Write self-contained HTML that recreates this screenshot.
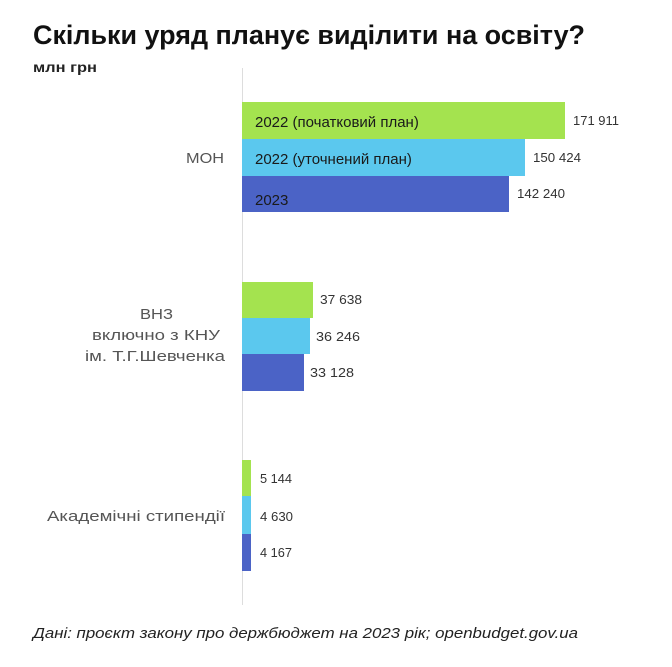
<!DOCTYPE html>
<html><head><meta charset="utf-8"><style>
html,body{margin:0;padding:0;background:#fff;}
svg{display:block;}
text{font-family:"Liberation Sans","DejaVu Sans",sans-serif;}
</style></head><body>
<svg width="672" height="667" viewBox="0 0 672 667" xmlns="http://www.w3.org/2000/svg">
<rect width="672" height="667" fill="#fff"/>
<text x="33" y="44" font-size="27" font-weight="bold" fill="#111" textLength="552" lengthAdjust="spacingAndGlyphs">Скільки уряд планує виділити на освіту?</text>
<text x="33" y="72" font-size="14" font-weight="bold" fill="#222" textLength="64" lengthAdjust="spacingAndGlyphs">млн грн</text>
<line x1="242.5" y1="68" x2="242.5" y2="605" stroke="#ddd" stroke-width="1"/>
<rect x="242" y="102" width="323" height="37" fill="#a4e34f"/>
<rect x="242" y="139" width="283" height="37" fill="#5bc8ee"/>
<rect x="242" y="176" width="267" height="36" fill="#4b63c6"/>
<g font-size="15" fill="#1a1a1a">
<text x="255" y="127">2022 (початковий план)</text>
<text x="255" y="164">2022 (уточнений план)</text>
<text x="255" y="205">2023</text>
</g>
<g font-size="13" fill="#333">
<text x="573" y="125" textLength="46" lengthAdjust="spacingAndGlyphs">171 911</text>
<text x="533" y="162" textLength="48" lengthAdjust="spacingAndGlyphs">150 424</text>
<text x="517" y="198" textLength="48" lengthAdjust="spacingAndGlyphs">142 240</text>
<text x="320" y="304" textLength="42" lengthAdjust="spacingAndGlyphs">37 638</text>
<text x="316" y="341" textLength="44" lengthAdjust="spacingAndGlyphs">36 246</text>
<text x="310" y="377" textLength="44" lengthAdjust="spacingAndGlyphs">33 128</text>
<text x="260" y="483" textLength="32" lengthAdjust="spacingAndGlyphs">5 144</text>
<text x="260" y="521" textLength="33" lengthAdjust="spacingAndGlyphs">4 630</text>
<text x="260" y="557" textLength="32" lengthAdjust="spacingAndGlyphs">4 167</text>
</g>
<rect x="242" y="282" width="71" height="36" fill="#a4e34f"/>
<rect x="242" y="318" width="68" height="36" fill="#5bc8ee"/>
<rect x="242" y="354" width="62" height="37" fill="#4b63c6"/>
<rect x="242" y="460" width="9" height="36" fill="#a4e34f"/>
<rect x="242" y="496" width="9" height="38" fill="#5bc8ee"/>
<rect x="242" y="534" width="9" height="37" fill="#4b63c6"/>
<g font-size="15" fill="#555">
<text x="224" y="163" text-anchor="end" textLength="38" lengthAdjust="spacingAndGlyphs">МОН</text>
<text x="140" y="319" textLength="33" lengthAdjust="spacingAndGlyphs">ВНЗ</text>
<text x="92" y="340" textLength="128" lengthAdjust="spacingAndGlyphs">включно з КНУ</text>
<text x="85" y="361" textLength="140" lengthAdjust="spacingAndGlyphs">ім. Т.Г.Шевченка</text>
<text x="47" y="521" textLength="178" lengthAdjust="spacingAndGlyphs">Академічні стипендії</text>
</g>
<text x="33" y="638" font-size="15" font-style="italic" fill="#222" textLength="545" lengthAdjust="spacingAndGlyphs">Дані: проєкт закону про держбюджет на 2023 рік; openbudget.gov.ua</text>
</svg>
</body></html>
